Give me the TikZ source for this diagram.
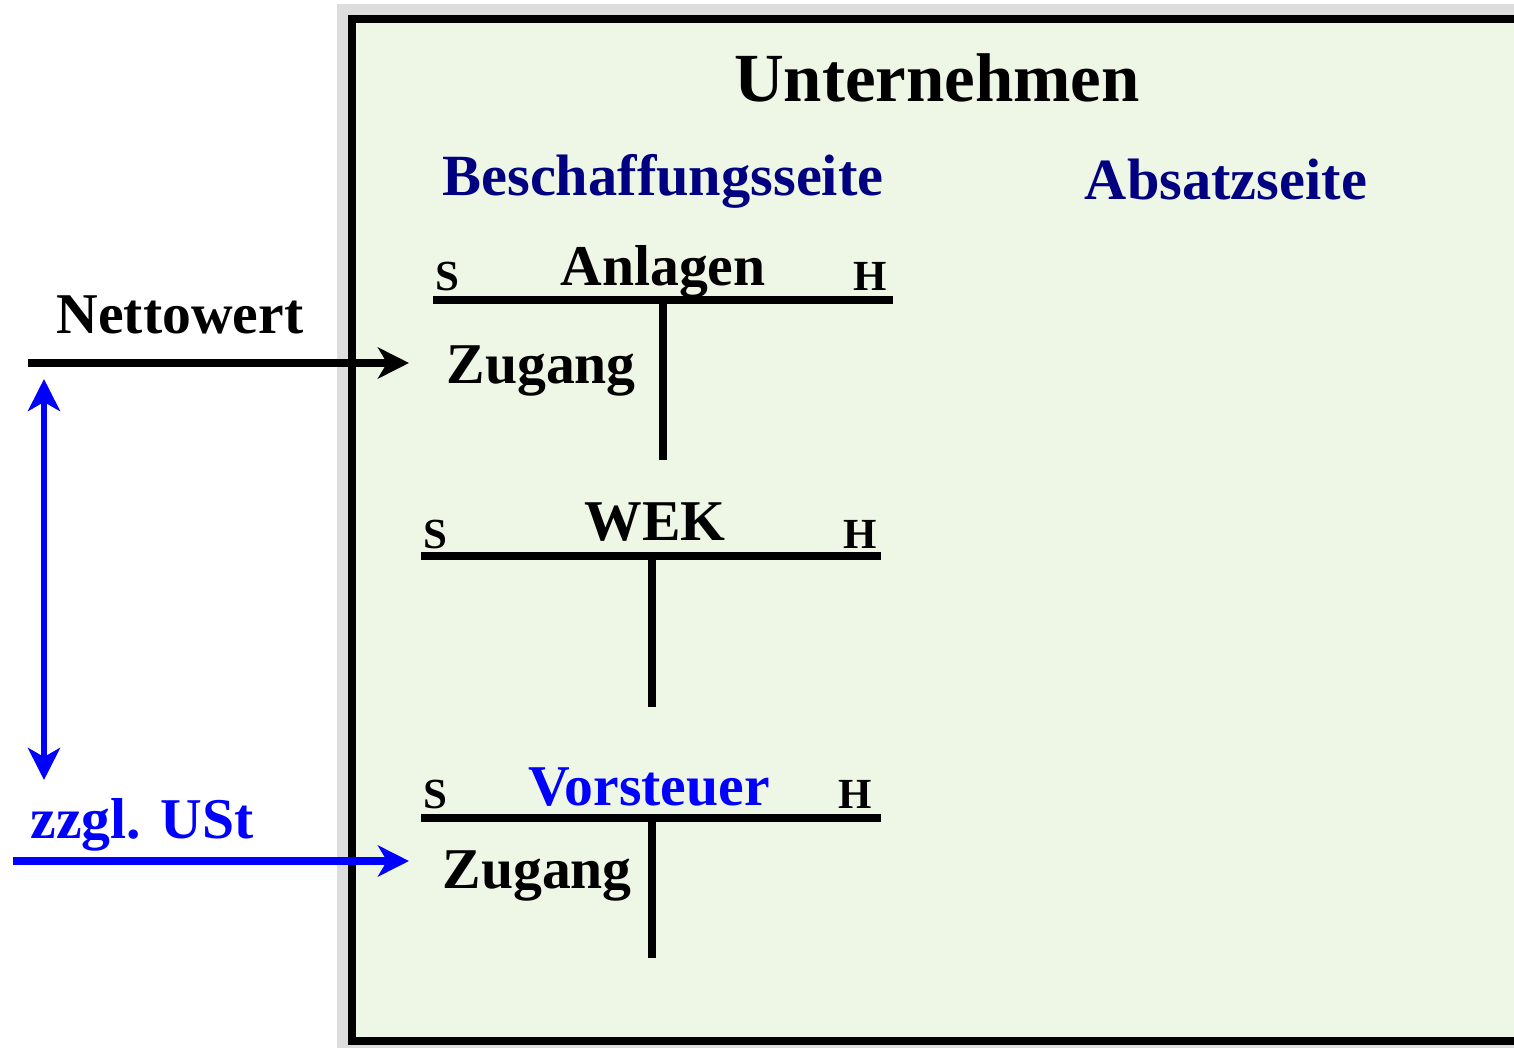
\documentclass[tikz,border=0pt]{standalone}
\usepackage{fontspec}
\setmainfont{Liberation Serif}
\usepackage{tikz}
\usetikzlibrary{arrows.meta}
\definecolor{navy}{RGB}{0, 0, 128}
\definecolor{plainblue}{RGB}{0, 0, 255}
\definecolor{palegreen}{RGB}{238, 246, 230}
\definecolor{greyband}{RGB}{221, 221, 221}

\tikzset{
  txt/.style={inner sep=0pt, anchor=base, font=\bfseries\fontsize{16.4pt}{18pt}\selectfont},
  side/.style={inner sep=0pt, font=\bfseries\fontsize{12.2pt}{14pt}\selectfont},
  tline/.style={line width=2pt},
  arr/.style={line width=2pt, -{Stealth[length=0.31cm, width=0.31cm, inset=0.09cm]}},
  dblarr/.style={line width=1.8pt, {Stealth[length=0.32cm, width=0.32cm, inset=0.09cm]}-{Stealth[length=0.32cm, width=0.32cm, inset=0.09cm]}}
}

\begin{document}
\begin{tikzpicture}[x=0.01cm, y=-0.01cm]

  \useasboundingbox (0, 0) rectangle (1514, 1048);

  \begin{scope}
    \clip (0, 0) rectangle (1514, 1048);
    \fill[greyband] (337, 4) rectangle (1530, 1060);
    \draw[line width=0.08cm, fill=palegreen] (352, 19) rectangle (1560, 1041);
  \end{scope}

  \node[txt, font=\bfseries\fontsize{19.6pt}{22pt}\selectfont] (firm) at (937, 101) {Unternehmen};
  \node[txt, navy, font=\bfseries\fontsize{16.6pt}{18pt}\selectfont] (buy) at (663, 195) {Beschaffungsseite};
  \node[txt, navy, font=\bfseries\fontsize{16.6pt}{18pt}\selectfont] (sell) at (1226, 199) {Absatzseite};

  % T-accounts: name, left, right, y of bar, x of stem, stem end
  \foreach \nm/\xl/\xr/\yb/\xs/\ye in {A/433/893/300/663/460, W/421/881/556/652/707, V/421/881/818/652/958} {
    \draw[tline] (\xl, \yb) -- (\xr, \yb);
    \draw[tline, line width=2.2pt] (\xs, \yb) -- (\xs, \ye);
  }

  \node[side, anchor=base west] (sA) at (435, 290) {S};
  \node[side, anchor=base east] (hA) at (888, 290) {H};
  \node[txt] (acctA) at (663, 285) {Anlagen};
  \node[txt, anchor=base west] (zugA) at (446, 383) {Zugang};

  \node[side, anchor=base west] (sW) at (423, 548) {S};
  \node[side, anchor=base east] (hW) at (878, 548) {H};
  \node[txt] (acctW) at (655, 540) {WEK};

  \node[side, anchor=base west] (sV) at (423, 808) {S};
  \node[side, anchor=base east] (hV) at (873, 808) {H};
  \node[txt, plainblue] (acctV) at (649, 805) {Vorsteuer};
  \node[txt, anchor=base west] (zugV) at (442, 888) {Zugang};

  \node[txt] (net) at (180, 333) {Nettowert};
  \node[txt, plainblue, anchor=base west] (tax) at (30, 838) {zzgl. USt};

  \coordinate (netL) at (28, 363);
  \coordinate (netR) at (409, 363);
  \coordinate (taxL) at (13, 861);
  \coordinate (taxR) at (409, 861);
  \coordinate (upT) at (44, 379);
  \coordinate (upB) at (44, 780);

  \draw[arr] (netL) -- (netR);
  \draw[arr, plainblue] (taxL) -- (taxR);
  \draw[dblarr, plainblue] (upT) -- (upB);

\end{tikzpicture}
\end{document}
